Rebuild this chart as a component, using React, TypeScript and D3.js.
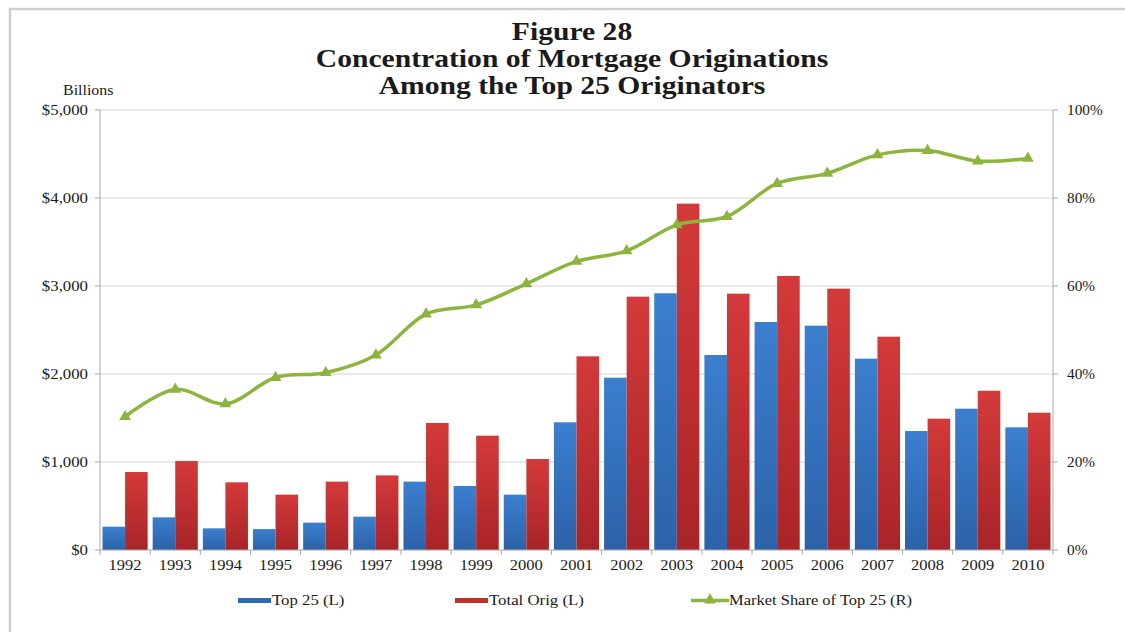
import React from "react";
import * as d3 from "d3";

const years = ["1992","1993","1994","1995","1996","1997","1998","1999","2000","2001","2002","2003","2004","2005","2006","2007","2008","2009","2010"];
const top25 = [265, 371, 246, 238, 311, 379, 777, 727, 629, 1451, 1958, 2917, 2216, 2591, 2549, 2174, 1352, 1606, 1394];
const totalOrig = [886, 1011, 769, 629, 777, 848, 1443, 1299, 1034, 2201, 2879, 3936, 2913, 3114, 2970, 2424, 1492, 1810, 1560];
const marketShare = [30.3, 36.5, 33.2, 39.2, 40.3, 44.3, 53.6, 55.7, 60.5, 65.6, 68.0, 73.9, 75.8, 83.3, 85.6, 89.8, 90.8, 88.4, 89.0];
const leftTicks = [0, 1000, 2000, 3000, 4000, 5000];
const rightTicks = [0, 20, 40, 60, 80, 100];
const titleLines = ["Figure 28", "Concentration of Mortgage Originations", "Among the Top 25 Originators"];
const legendItems = ["Top 25 (L)", "Total Orig (L)", "Market Share of Top 25 (R)"];

const W = 1125, H = 632;
const M = { left: 100, right: 1053, top: 110, bottom: 550 };
const FONT = "'Liberation Serif', 'Times New Roman', serif";
const GREEN = "#8db43e";

function T({ x, y, sx = 1.08, anchor = "start", size = 15, weight = "normal", children }: any) {
  return (
    <text transform={`translate(${x},${y}) scale(${sx},1)`} textAnchor={anchor} fontSize={size} fontWeight={weight} fill="#1a1a1a">
      {children}
    </text>
  );
}

export default function App() {
  const x = d3.scaleBand<string>().domain(years).range([M.left, M.right]).paddingInner(0.1).paddingOuter(0.05);
  const band = d3.scaleBand<string>().domain(years).range([M.left, M.right]);
  const sub = d3.scaleBand<string>().domain(["a", "b"]).range([0, x.bandwidth()]);
  const yL = d3.scaleLinear().domain([0, 5000]).range([M.bottom, M.top]);
  const yR = d3.scaleLinear().domain([0, 100]).range([M.bottom, M.top]);
  const cx = (y: string) => (band(y) as number) + band.bandwidth() / 2;
  const line = d3.line<number>().x((_, i) => cx(years[i])).y((d) => yR(d)).curve(d3.curveCatmullRom.alpha(0.5));
  const tri = d3.symbol().type(d3.symbolTriangle).size(60)();
  const fmt = d3.format("$,");

  return (
    <svg width={W} height={H} style={{ position: "absolute", left: 0, top: 0, background: "#fff" }} fontFamily={FONT}>
      <defs>
        <linearGradient id="gBlue" x1="0" y1="0" x2="0" y2="1">
          <stop offset="0" stopColor="#3b7fcf" />
          <stop offset="1" stopColor="#2c62a8" />
        </linearGradient>
        <linearGradient id="gRed" x1="0" y1="0" x2="0" y2="1">
          <stop offset="0" stopColor="#d43a3a" />
          <stop offset="1" stopColor="#a82428" />
        </linearGradient>
      </defs>
      <rect x={10} y={9} width={1140} height={660} fill="none" stroke="#cfcfcf" strokeWidth={2.5} />

      {titleLines.map((t, i) => (
        <T key={t} x={572} y={40 + i * 27} sx={1.14} anchor="middle" size={26} weight="bold">{t}</T>
      ))}
      <T x={63} y={95} size={14.5} sx={1.1}>Billions</T>

      {leftTicks.map((t) => (
        <g key={"l" + t}>
          {t > 0 && <line x1={M.left} x2={M.right} y1={yL(t)} y2={yL(t)} stroke="#d4d4d4" strokeWidth={1.2} />}
          <line x1={M.left - 5} x2={M.left} y1={yL(t)} y2={yL(t)} stroke="#a8a8a8" />
          <T x={M.left - 12} y={yL(t) + 5} anchor="end" sx={1.12}>{fmt(t)}</T>
        </g>
      ))}
      {rightTicks.map((t) => (
        <g key={"r" + t}>
          <line x1={M.right} x2={M.right + 5} y1={yR(t)} y2={yR(t)} stroke="#a8a8a8" />
          <T x={M.right + 14} y={yR(t) + 5} sx={1.02}>{t + "%"}</T>
        </g>
      ))}

      {years.map((yr, i) => (
        <g key={yr}>
          <rect x={(x(yr) as number) + (sub("a") as number)} y={yL(top25[i])} width={sub.bandwidth()} height={yL(0) - yL(top25[i])} fill="url(#gBlue)" />
          <rect x={(x(yr) as number) + (sub("b") as number)} y={yL(totalOrig[i])} width={sub.bandwidth()} height={yL(0) - yL(totalOrig[i])} fill="url(#gRed)" />
        </g>
      ))}

      <line x1={M.left} x2={M.left} y1={M.top} y2={M.bottom} stroke="#a8a8a8" />
      <line x1={M.right} x2={M.right} y1={M.top} y2={M.bottom} stroke="#a8a8a8" />
      <line x1={M.left} x2={M.right} y1={M.bottom} y2={M.bottom} stroke="#a8a8a8" />
      {[...years.map((y) => band(y) as number), M.right].map((v, i) => (
        <line key={"xt" + i} x1={v} x2={v} y1={M.bottom} y2={M.bottom + 5} stroke="#a8a8a8" />
      ))}
      {years.map((yr) => (
        <T key={"xl" + yr} x={cx(yr)} y={570} anchor="middle" sx={1.1}>{yr}</T>
      ))}

      <path d={line(marketShare) || ""} fill="none" stroke={GREEN} strokeWidth={3.5} strokeLinejoin="round" />
      {marketShare.map((v, i) => (
        <path key={"m" + i} d={tri || ""} transform={`translate(${cx(years[i])},${yR(v)})`} fill={GREEN} />
      ))}

      <rect x={238} y={598} width={33} height={5} fill="#2f6ab5" />
      <T x={272} y={605} sx={1.12}>{legendItems[0]}</T>
      <rect x={455} y={598} width={33} height={5} fill="#c0302f" />
      <T x={489} y={605} sx={1.12}>{legendItems[1]}</T>
      <line x1={691} x2={729} y1={600.5} y2={600.5} stroke={GREEN} strokeWidth={3.5} />
      <path d={tri || ""} transform="translate(710,600)" fill={GREEN} />
      <T x={729} y={605} sx={1.1}>{legendItems[2]}</T>
    </svg>
  );
}
